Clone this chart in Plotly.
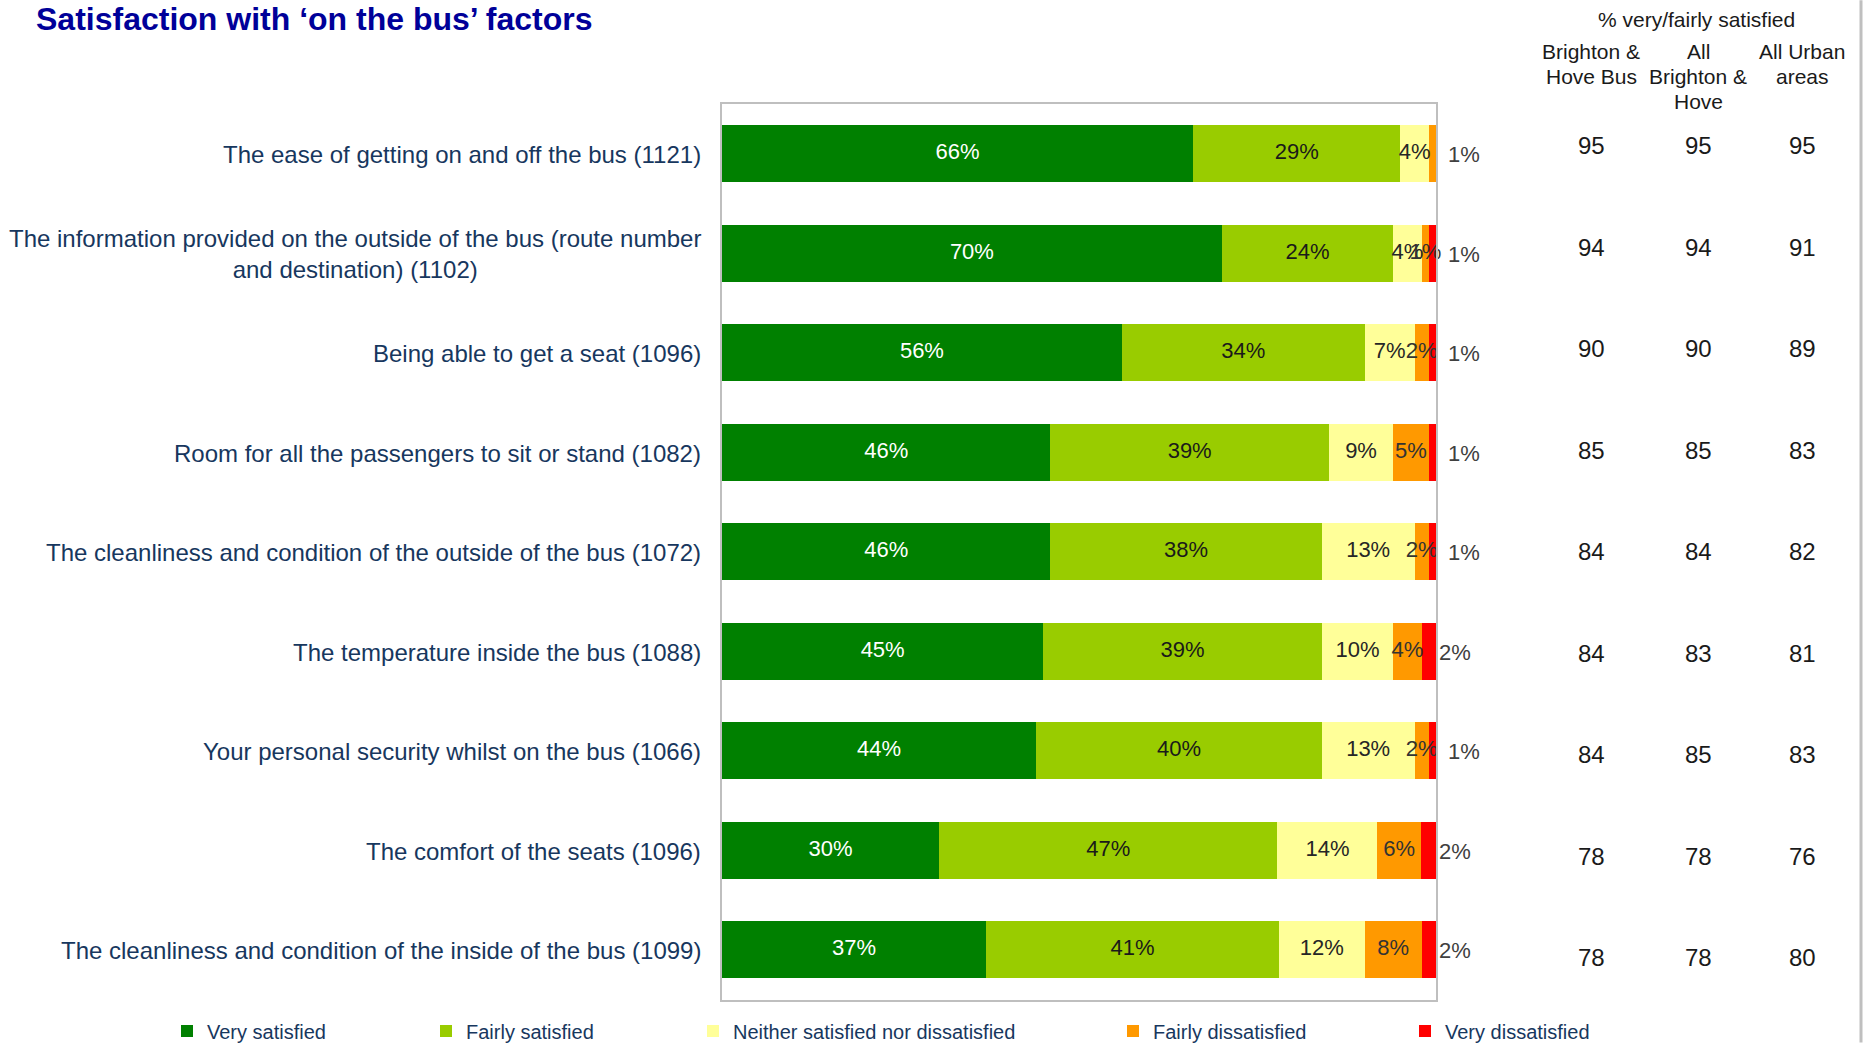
import plotly.graph_objects as go

# ---------------- data ----------------
categories = [
    "The ease of getting on and off the bus (1121)",
    "The information provided on the outside of the bus (route number<br>and destination) (1102)",
    "Being able to get a seat (1096)",
    "Room for all the passengers to sit or stand (1082)",
    "The cleanliness and condition of the outside of the bus (1072)",
    "The temperature inside the bus (1088)",
    "Your personal security whilst on the bus (1066)",
    "The comfort of the seats (1096)",
    "The cleanliness and condition of the inside of the bus (1099)",
]
series_names = ["Very satisfied", "Fairly satisfied", "Neither satisfied nor dissatisfied",
                "Fairly dissatisfied", "Very dissatisfied"]
very_satisfied = [66, 70, 56, 46, 46, 45, 44, 30.4, 37]
fairly_satisfied = [29, 24, 34, 39, 38, 39, 40, 47.4, 41]
neither = [4, 4, 7, 9, 13, 10, 13, 14, 12]
fairly_dissatisfied = [1, 1, 2, 5, 2, 4, 2, 6.1, 8]
very_dissatisfied = [1, 1, 1, 1, 1, 2, 1, 2.1, 2]
hidden_labels = {("Fairly dissatisfied", 0)}

table_title = "% very/fairly satisfied"
table_headers = [["Brighton &", "Hove Bus"], ["All", "Brighton &", "Hove"], ["All Urban", "areas"]]
bh_bus = [95, 94, 90, 85, 84, 84, 84, 78, 78]
all_bh = [95, 94, 90, 85, 84, 83, 85, 78, 78]
all_urban = [95, 91, 89, 83, 82, 81, 83, 76, 80]

# ---------------- styles ----------------
colors = ["#008000", "#99CC00", "#FFFF99", "#FF9900", "#FF0000"]
label_colors = ["white", "#1a1a1a", "#262626", "#333333", "#333333"]
FONT = "Liberation Sans, Arial, sans-serif"
NAVY = "#17375E"
W, H = 1865, 1044
L, R, T, B = 722, 1436, 104, 1001
PW, PH = R - L, B - T


def px(x):
    return (x - L) / PW


def py(y):
    return (B - y) / PH


fig = go.Figure()
values = [very_satisfied, fairly_satisfied, neither, fairly_dissatisfied, very_dissatisfied]
legend_text_x = [207, 466, 733, 1153, 1445]
for k, (name, vals) in enumerate(zip(series_names, values)):
    lg = "legend" if k == 0 else f"legend{k + 1}"
    fig.add_trace(go.Bar(
        y=categories, x=vals, name=name, orientation="h",
        marker=dict(color=colors[k], line=dict(width=0)),
        legend=lg, hoverinfo="x+name",
    ))

# segment labels drawn on top of all bars (centered in each segment)
base = [0.0] * len(categories)
for k, (name, vals) in enumerate(zip(series_names, values)):
    if k < 4:
        mids = [b + v / 2 for b, v in zip(base, vals)]
        text = ["" if (name, i) in hidden_labels else f"{round(v)}%" for i, v in enumerate(vals)]
        fig.add_trace(go.Scatter(
            x=mids, y=categories, mode="text", text=text, showlegend=False,
            textposition="middle center", hoverinfo="skip", cliponaxis=False,
            textfont=dict(family=FONT, size=22, color=label_colors[k]),
        ))
    base = [b + v for b, v in zip(base, vals)]

# legends, one per series so each sits where the original has it
for k in range(5):
    key = "legend" if k == 0 else f"legend{k + 1}"
    fig.update_layout({key: dict(
        x=(legend_text_x[k] - 40) / W, xanchor="left", y=1 - 1031 / H, yanchor="middle",
        xref="container", yref="container", orientation="h", bgcolor="rgba(0,0,0,0)",
        font=dict(family=FONT, size=20, color=NAVY), borderwidth=0,
    )})

annotations = []
# category labels (centered multi-line, right aligned block)
for cat in categories:
    annotations.append(dict(
        x=0, xref="paper", y=cat, yref="y", xanchor="right", yanchor="middle", xshift=-19,
        yshift=-1, text=cat, showarrow=False, align="center",
        font=dict(family=FONT, size=24, color=NAVY)))
# outside labels (very dissatisfied)
for cat, v in zip(categories, very_dissatisfied):
    annotations.append(dict(
        x=100, xref="x", y=cat, yref="y", xanchor="left", yanchor="middle",
        xshift=10 if round(v) == 1 else 1, yshift=-1,
        text=f"{round(v)}%", showarrow=False,
        font=dict(family=FONT, size=22, color="#404040")))

# table
col_x = [1591, 1698, 1802]
annotations.append(dict(x=px(1696), y=py(19), xref="paper", yref="paper", text=table_title,
                        xanchor="center", yanchor="middle",
                        showarrow=False, font=dict(family=FONT, size=21, color="#1a1a1a")))
for cx, lines in zip(col_x, table_headers):
    for j, line in enumerate(lines):
        annotations.append(dict(x=px(cx), y=py(51 + 25 * j), xref="paper", yref="paper",
                                xanchor="center", yanchor="middle",
                                text=line, showarrow=False,
                                font=dict(family=FONT, size=21, color="#1a1a1a")))
for cx, col in zip(col_x, [bh_bus, all_bh, all_urban]):
    for i, (cat, v) in enumerate(zip(categories, col)):
        annotations.append(dict(x=px(cx), xref="paper", y=cat, yref="y", yshift=8 - 2 * i,
                                xanchor="center", yanchor="middle",
                                text=str(v), showarrow=False,
                                font=dict(family=FONT, size=24, color="#1a1a1a")))

fig.update_layout(
    width=W, height=H,
    margin=dict(l=L, r=W - R, t=T, b=H - B, pad=0),
    barmode="stack", bargap=0.43,
    plot_bgcolor="white", paper_bgcolor="white",
    title=dict(text="<b>Satisfaction with ‘on the bus’ factors</b>", x=36 / W, xref="container",
               xanchor="left", y=1 - 19 / H, yref="container", yanchor="middle",
               font=dict(family=FONT, size=32, color="#000099")),
    xaxis=dict(range=[0, 100], showgrid=False, zeroline=False, showticklabels=False,
               showline=True, mirror=True, linecolor="#BFBFBF", linewidth=2, fixedrange=True),
    yaxis=dict(autorange="reversed", showgrid=False, zeroline=False, showticklabels=False,
               showline=True, mirror=True, linecolor="#BFBFBF", linewidth=2, fixedrange=True),
    annotations=annotations,
    shapes=[dict(type="line", xref="paper", yref="paper", x0=px(1861), x1=px(1861),
                 y0=py(H), y1=py(0), line=dict(color="#BFBFBF", width=3))],
    showlegend=True,
)

fig.write_html("out.html", config={"displayModeBar": False},
               post_script="document.body.style.margin='0';document.body.style.overflow='hidden';")
